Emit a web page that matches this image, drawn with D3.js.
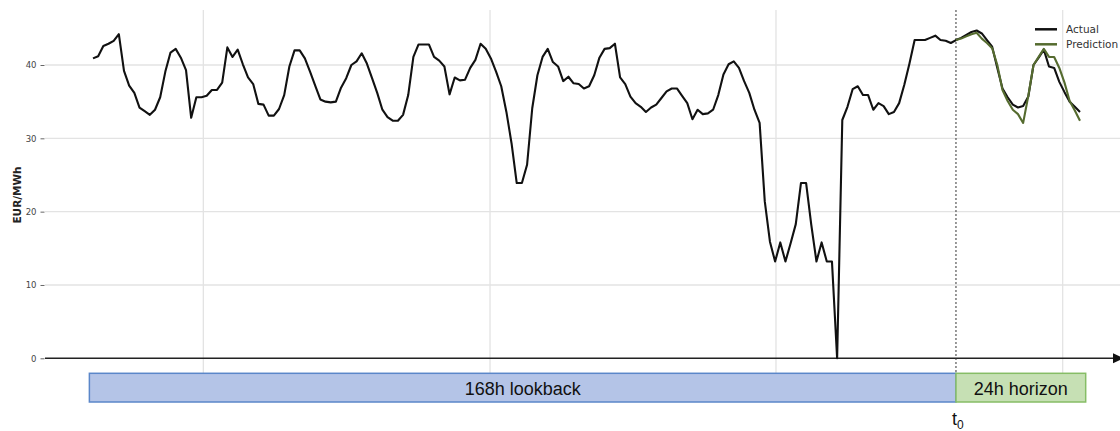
<!DOCTYPE html>
<html>
<head>
<meta charset="utf-8">
<script src="https://cdn.jsdelivr.net/npm/d3@7"></script>
<style>
  html, body { margin: 0; padding: 0; background: #fff; }
  svg { display: block; }
</style>
</head>
<body>
<svg id="chart" width="1120" height="431"></svg>
<script>
// Hourly day-ahead price, EUR/MWh: 168h lookback followed by the 24h horizon
const actual = [
  40.9, 41.2, 42.6, 42.9, 43.3, 44.2, 39.2, 37.2, 36.2, 34.2,
  33.7, 33.2, 33.9, 35.6, 39.1, 41.7, 42.2, 41.0, 39.3, 32.8,
  35.6, 35.6, 35.8, 36.6, 36.6, 37.6, 42.4, 41.1, 42.1, 40.1,
  38.3, 37.4, 34.7, 34.6, 33.1, 33.1, 34.0, 35.9, 39.8, 42.0,
  42.0, 40.9, 39.1, 37.2, 35.3, 35.0, 34.9, 35.0, 36.9, 38.2,
  40.0, 40.5, 41.6, 40.2, 38.2, 36.2, 33.9, 32.9, 32.4, 32.4,
  33.2, 35.9, 41.1, 42.8, 42.8, 42.8, 41.1, 40.6, 39.8, 36.0,
  38.3, 37.9, 38.0, 39.6, 40.7, 42.9, 42.2, 40.9, 39.1, 37.1,
  33.6, 29.3, 23.9, 23.9, 26.4, 34.1, 38.6, 41.1, 42.2, 40.4,
  39.8, 37.8, 38.4, 37.5, 37.4, 36.8, 37.1, 38.6, 41.0, 42.2,
  42.3, 42.9, 38.3, 37.4, 35.7, 34.8, 34.3, 33.6, 34.2, 34.6,
  35.5, 36.4, 36.8, 36.8, 35.8, 34.8, 32.6, 33.9, 33.3, 33.4,
  33.9, 35.9, 38.7, 40.1, 40.5, 39.6, 37.8, 36.2, 33.9, 32.1,
  21.4, 15.9, 13.2, 15.8, 13.2, 15.7, 18.3, 23.9, 23.9, 18.2,
  13.2, 15.8, 13.2, 13.2, 0.0, 32.5, 34.3, 36.7, 37.1, 35.9,
  35.9, 33.9, 34.8, 34.4, 33.3, 33.6, 34.8, 37.3, 40.2, 43.4,
  43.4, 43.4, 43.7, 44.0, 43.4, 43.3, 43.0, 43.4, 43.7, 44.1,
  44.5, 44.7, 44.3, 43.4, 42.5, 39.6, 36.8, 35.6, 34.6, 34.2,
  34.4, 35.7, 40.0, 41.0, 42.1, 39.8, 39.6, 37.7, 36.3, 35.0,
  34.3, 33.6
];

// Model forecast, starting at the forecast origin t0
const prediction = [
  43.4, 43.6, 43.9, 44.2, 44.4, 43.6, 43.0, 42.3, 40.0, 36.6,
  35.1, 33.9, 33.3, 32.1, 35.8, 40.0, 41.1, 42.2, 41.1, 41.1,
  39.6, 37.6, 35.1, 33.8, 32.4
];

const forecastStart = 167;               // hour index of t0
const yTicks = [0, 10, 20, 30, 40];
const xGridHours = [21.35, 76.83, 132.17, 187.65];
const seriesNames = ["Actual", "Prediction"];
const windowNames = ["168h lookback", "24h horizon"];

const hours = d3.range(actual.length);
const predHours = d3.range(forecastStart, forecastStart + prediction.length);

const colors = { actual: "#111111", prediction: "#556b2f" };

const svg = d3.select("#chart");

const x = d3.scaleLinear().domain([0, actual.length - 1]).range([93, 1080]);
const y = d3.scaleLinear().domain([0, 40]).range([358.3, 65]);

const plotTop = 10;
const plotLeft = 45;
const plotRight = 1120;
const boxTop = 373.3, boxBottom = 402;

// vertical grid
svg.append("g")
  .selectAll("line")
  .data(xGridHours)
  .join("line")
  .attr("x1", d => x(d)).attr("x2", d => x(d))
  .attr("y1", plotTop).attr("y2", boxTop)
  .attr("stroke", "#e3e3e3").attr("stroke-width", 1.3);

// horizontal grid
svg.append("g")
  .selectAll("line")
  .data(yTicks.filter(d => d > 0))
  .join("line")
  .attr("x1", plotLeft).attr("x2", plotRight)
  .attr("y1", d => y(d)).attr("y2", d => y(d))
  .attr("stroke", "#e3e3e3").attr("stroke-width", 1.3);

// y axis ticks and labels
const yAxis = svg.append("g")
  .attr("transform", `translate(${plotLeft - 0.5},0)`)
  .call(d3.axisLeft(y).tickValues(yTicks).tickSize(4).tickPadding(4));
yAxis.select(".domain").remove();
yAxis.selectAll(".tick line").attr("stroke", "#666").attr("stroke-width", 1);
yAxis.selectAll(".tick text")
  .attr("fill", "#444")
  .style("font-family", "DejaVu Sans, sans-serif")
  .style("font-size", "8.5px");

svg.append("text")
  .attr("transform", "translate(21,195) rotate(-90)")
  .attr("text-anchor", "middle")
  .style("font-family", "DejaVu Sans, sans-serif")
  .style("font-size", "10.5px")
  .style("font-weight", "bold")
  .attr("fill", "#222")
  .text("EUR/MWh");

// zero line with arrow head
svg.append("line")
  .attr("x1", plotLeft).attr("x2", 1114)
  .attr("y1", y(0)).attr("y2", y(0))
  .attr("stroke", "#222").attr("stroke-width", 1.5);
svg.append("path")
  .attr("d", `M1113,${y(0) - 5}L1124,${y(0)}L1113,${y(0) + 5}Z`)
  .attr("fill", "#111");

// window boxes
const windows = [
  { name: windowNames[0], from: -0.7, to: forecastStart, fill: "#b4c4e7", stroke: "#5b87c9" },
  { name: windowNames[1], from: forecastStart, to: 192.1, fill: "#c6e0b4", stroke: "#86bd66" }
];
const wg = svg.append("g").selectAll("g").data(windows).join("g");
wg.append("rect")
  .attr("x", d => x(d.from)).attr("y", boxTop)
  .attr("width", d => x(d.to) - x(d.from)).attr("height", boxBottom - boxTop)
  .attr("fill", d => d.fill).attr("stroke", d => d.stroke).attr("stroke-width", 1.5);
wg.append("text")
  .attr("x", d => (x(d.from) + x(d.to)) / 2).attr("y", 395)
  .attr("text-anchor", "middle")
  .style("font-family", "Liberation Sans, Arial, sans-serif")
  .style("font-size", "18px")
  .attr("fill", "#111")
  .text(d => d.name);

// forecast origin
svg.append("line")
  .attr("x1", x(forecastStart)).attr("x2", x(forecastStart))
  .attr("y1", plotTop).attr("y2", boxTop)
  .attr("stroke", "#333").attr("stroke-width", 1).attr("stroke-dasharray", "2,2");
const t0 = svg.append("text")
  .attr("x", x(forecastStart) - 4).attr("y", 425)
  .style("font-family", "Liberation Sans, Arial, sans-serif")
  .style("font-size", "18px")
  .attr("fill", "#111");
t0.append("tspan").text("t");
t0.append("tspan").attr("dy", 4).style("font-size", "12px").text("0");

// series
const line = d3.line().x(d => x(d[0])).y(d => y(d[1]));
svg.append("path")
  .datum(hours.map(h => [h, actual[h]]))
  .attr("d", line)
  .attr("fill", "none").attr("stroke", colors.actual)
  .attr("stroke-width", 2.1).attr("stroke-linejoin", "round");
svg.append("path")
  .datum(predHours.map((h, i) => [h, prediction[i]]))
  .attr("d", line)
  .attr("fill", "none").attr("stroke", colors.prediction)
  .attr("stroke-width", 2.1).attr("stroke-linejoin", "round");

// legend
const legend = svg.append("g").attr("transform", "translate(1035,29.3)");
const items = legend.selectAll("g")
  .data([{ name: seriesNames[0], c: colors.actual }, { name: seriesNames[1], c: colors.prediction }])
  .join("g")
  .attr("transform", (d, i) => `translate(0,${i * 15})`);
items.append("line")
  .attr("x1", 0).attr("x2", 22)
  .attr("stroke", d => d.c).attr("stroke-width", 2.5);
items.append("text")
  .attr("x", 31).attr("dy", "0.35em")
  .style("font-family", "DejaVu Sans, sans-serif")
  .style("font-size", "10.5px")
  .attr("fill", "#333")
  .text(d => d.name);
</script>
</body>
</html>
